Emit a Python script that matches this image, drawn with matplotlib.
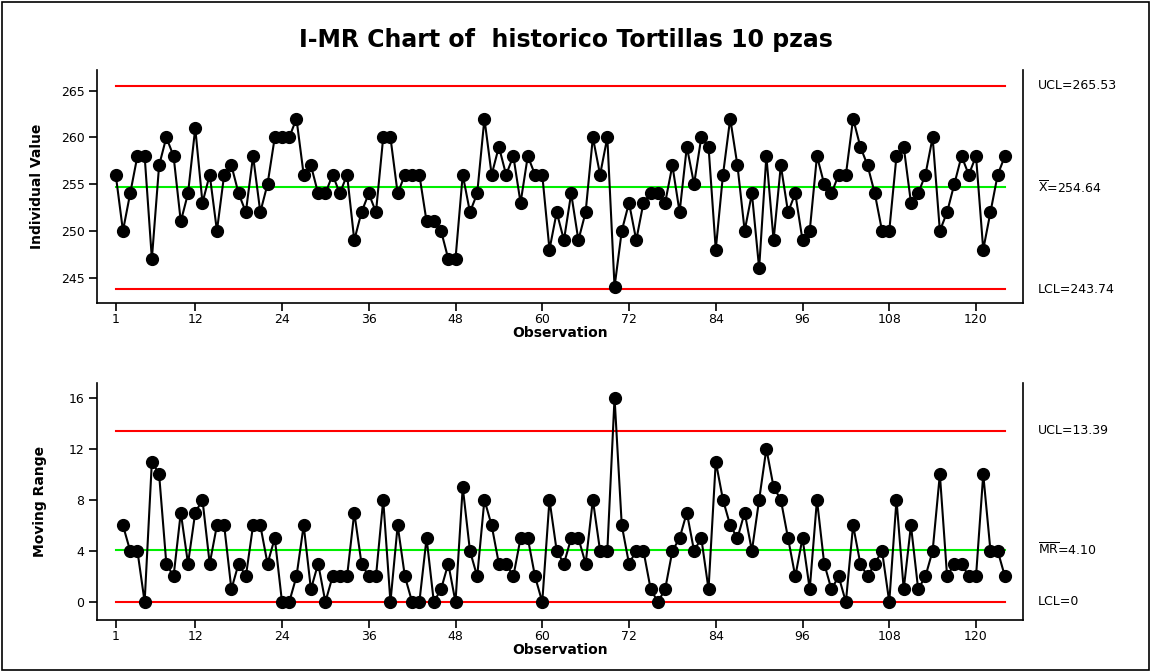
import numpy as np
import matplotlib.pyplot as plt
from matplotlib.patches import Rectangle

# individual observations, historico Tortillas 10 pzas
values = [256, 250, 254, 258, 258, 247, 257, 260, 258, 251,
          254, 261, 253, 256, 250, 256, 257, 254, 252, 258,
          252, 255, 260, 260, 260, 262, 256, 257, 254, 254,
          256, 254, 256, 249, 252, 254, 252, 260, 260, 254,
          256, 256, 256, 251, 251, 250, 247, 247, 256, 252,
          254, 262, 256, 259, 256, 258, 253, 258, 256, 256,
          248, 252, 249, 254, 249, 252, 260, 256, 260, 244,
          250, 253, 249, 253, 254, 254, 253, 257, 252, 259,
          255, 260, 259, 248, 256, 262, 257, 250, 254, 246,
          258, 249, 257, 252, 254, 249, 250, 258, 255, 254,
          256, 256, 262, 259, 257, 254, 250, 250, 258, 259,
          253, 254, 256, 260, 250, 252, 255, 258, 256, 258,
          248, 252, 256, 258]

# control limits
i_ucl, i_center, i_lcl = 265.53, 254.64, 243.74
mr_ucl, mr_center, mr_lcl = 13.39, 4.10, 0

x_ticks = [1, 12, 24, 36, 48, 60, 72, 84, 96, 108, 120]
i_ticks = [245, 250, 255, 260, 265]
mr_ticks = [0, 4, 8, 12, 16]

values = np.array(values)
obs = np.arange(1, len(values) + 1)
mr = np.abs(np.diff(values))
mr_obs = obs[1:]

plt.rcParams['font.family'] = ['DejaVu Sans']

fig = plt.figure(figsize=(11.51, 6.72), dpi=100)
fig.patches.append(Rectangle((0.002, 0.003), 0.996, 0.994, transform=fig.transFigure,
                             fill=False, edgecolor='black', linewidth=1.2))

fig.text(0.492, 0.94, "I-MR Chart of  historico Tortillas 10 pzas",
         ha='center', va='center', fontsize=17, fontweight='bold')

left, width = 97 / 1151, 926 / 1151
ax1 = fig.add_axes([left, 0.549, width, 0.3467])
ax2 = fig.add_axes([left, 0.0774, width, 0.3527])

x_lo, x_hi = -1.59, 126.5
seg_lo = (1 - x_lo) / (x_hi - x_lo)
seg_hi = (len(values) - x_lo) / (x_hi - x_lo)


def style(ax):
    ax.spines['top'].set_visible(False)
    for side in ['left', 'right', 'bottom']:
        ax.spines[side].set_linewidth(1.2)
    ax.tick_params(direction='out', length=6, width=1.2, labelsize=9, pad=1)
    ax.tick_params(axis='y', pad=3)
    ax.set_xlim(x_lo, x_hi)
    ax.set_xticks(x_ticks)
    ax.set_xlabel("Observation", fontsize=10, fontweight='bold', labelpad=0)


def limit_lines(ax, ucl, center, lcl):
    ax.axhline(ucl, xmin=seg_lo, xmax=seg_hi, color='#ff0000', lw=1.5)
    ax.axhline(center, xmin=seg_lo, xmax=seg_hi, color='#00ee00', lw=1.5)
    ax.axhline(lcl, xmin=seg_lo, xmax=seg_hi, color='#ff0000', lw=1.5)


lx = 1.016

# individual values
limit_lines(ax1, i_ucl, i_center, i_lcl)
ax1.plot(obs, values, color='black', lw=1.5, marker='o', markersize=8.5)
ax1.set_ylim(242.27, 267.2)
ax1.set_yticks(i_ticks)
ax1.set_ylabel("Individual Value", fontsize=10, fontweight='bold', labelpad=12)
style(ax1)

tr1 = ax1.get_yaxis_transform()
ax1.text(lx, i_ucl, f"UCL={i_ucl:.2f}", transform=tr1, va='center', fontsize=9)
ax1.text(lx, i_center, r"$\overline{\mathrm{X}}$" + f"={i_center:.2f}", transform=tr1, va='center', fontsize=9)
ax1.text(lx, i_lcl, f"LCL={i_lcl:.2f}", transform=tr1, va='center', fontsize=9)

# moving range
limit_lines(ax2, mr_ucl, mr_center, mr_lcl)
ax2.plot(mr_obs, mr, color='black', lw=1.5, marker='o', markersize=8.5)
ax2.set_ylim(-1.41, 17.15)
ax2.set_yticks(mr_ticks)
ax2.set_ylabel("Moving Range", fontsize=10, fontweight='bold', labelpad=16)
style(ax2)

tr2 = ax2.get_yaxis_transform()
ax2.text(lx, mr_ucl, f"UCL={mr_ucl:.2f}", transform=tr2, va='center', fontsize=9)
ax2.text(lx, mr_center, r"$\overline{\mathrm{MR}}$" + f"={mr_center:.2f}", transform=tr2, va='center', fontsize=9)
ax2.text(lx, mr_lcl, f"LCL={mr_lcl}", transform=tr2, va='center', fontsize=9)

fig.savefig("out.png", dpi=100)
